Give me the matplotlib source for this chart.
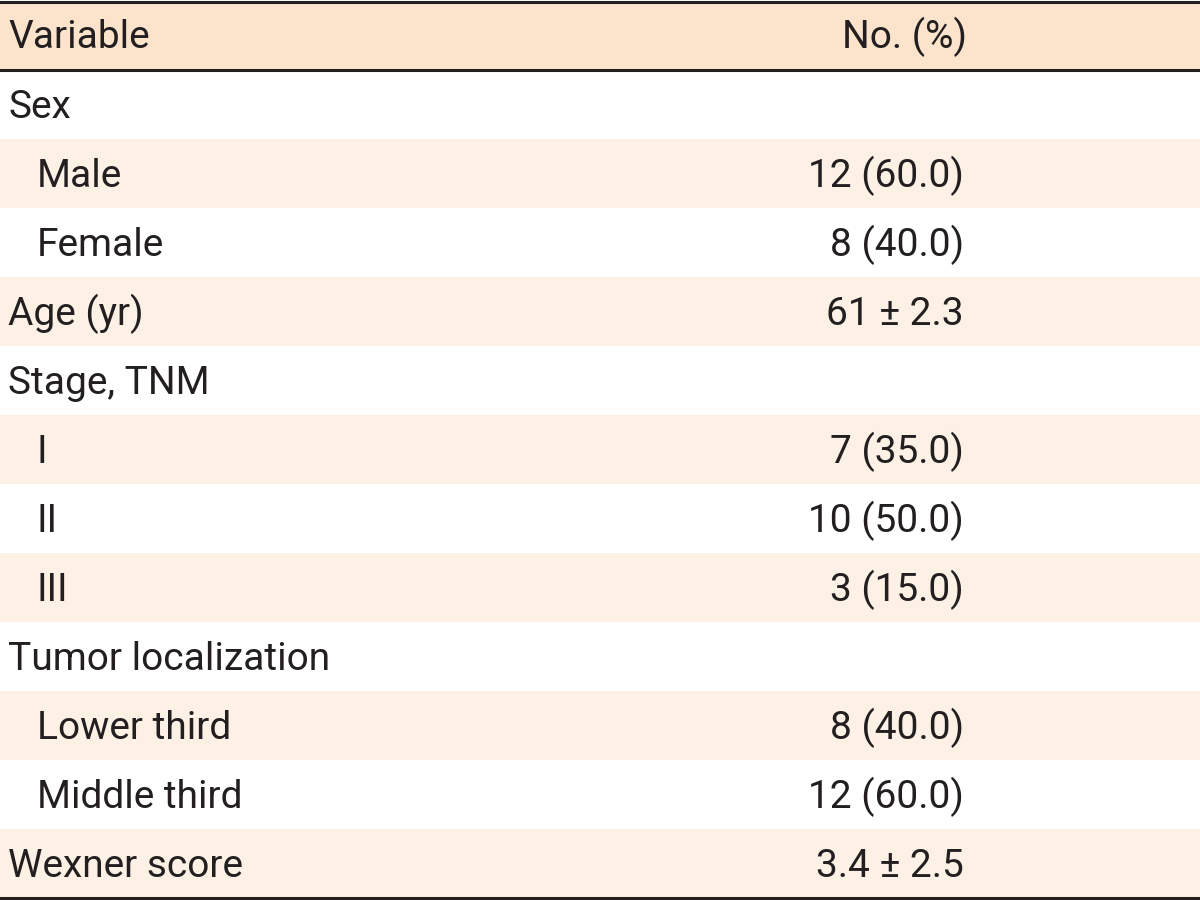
import matplotlib.pyplot as plt

headers = ["Variable", "No. (%)"]
labels = ["Sex", "Male", "Female", "Age (yr)", "Stage, TNM", "I", "II", "III",
          "Tumor localization", "Lower third", "Middle third", "Wexner score"]
values = ["", "12 (60.0)", "8 (40.0)", "61 \u00b1 2.3", "", "7 (35.0)", "10 (50.0)",
          "3 (15.0)", "", "8 (40.0)", "12 (60.0)", "3.4 \u00b1 2.5"]
indent = [0, 1, 1, 0, 0, 1, 1, 1, 0, 1, 1, 0]

plt.rcParams['font.family'] = ['Roboto', 'DejaVu Sans']

text_color = "#231f20"
header_bg = "#fce4cc"
shade_bg = "#fdf1e6"

fig = plt.figure(figsize=(12, 9), dpi=100)
ax = fig.add_axes([0, 0, 1, 1])
ax.set_xlim(0, 1200)
ax.set_ylim(900, 0)
ax.axis("off")

top = 1.5
header_h = 68
row_h = 69.04

# header
ax.axhspan(top, top + header_h, color=header_bg, lw=0)
ax.text(8, top + header_h / 2 + 13, headers[0], fontsize=28, color=text_color, va="baseline")
ax.text(904, top + header_h / 2 + 13, headers[1], fontsize=28, color=text_color,
        va="baseline", ha="center")

y0 = top + header_h
for i, (lab, val, ind) in enumerate(zip(labels, values, indent)):
    y = y0 + i * row_h
    if i % 2 == 1:
        ax.axhspan(y, y + row_h, color=shade_bg, lw=0)
    base = y + row_h / 2 + 14
    ax.text(8 + 29 * ind, base, lab, fontsize=28, color=text_color, va="baseline")
    if val:
        ax.text(964, base, val, fontsize=28, color=text_color, va="baseline", ha="right")

bottom = y0 + len(labels) * row_h
ax.axhline(top, color=text_color, lw=2.2)
ax.axhline(top + header_h, color=text_color, lw=2.2)
ax.axhline(bottom, color=text_color, lw=2.2)

fig.savefig("out.png", dpi=100)
